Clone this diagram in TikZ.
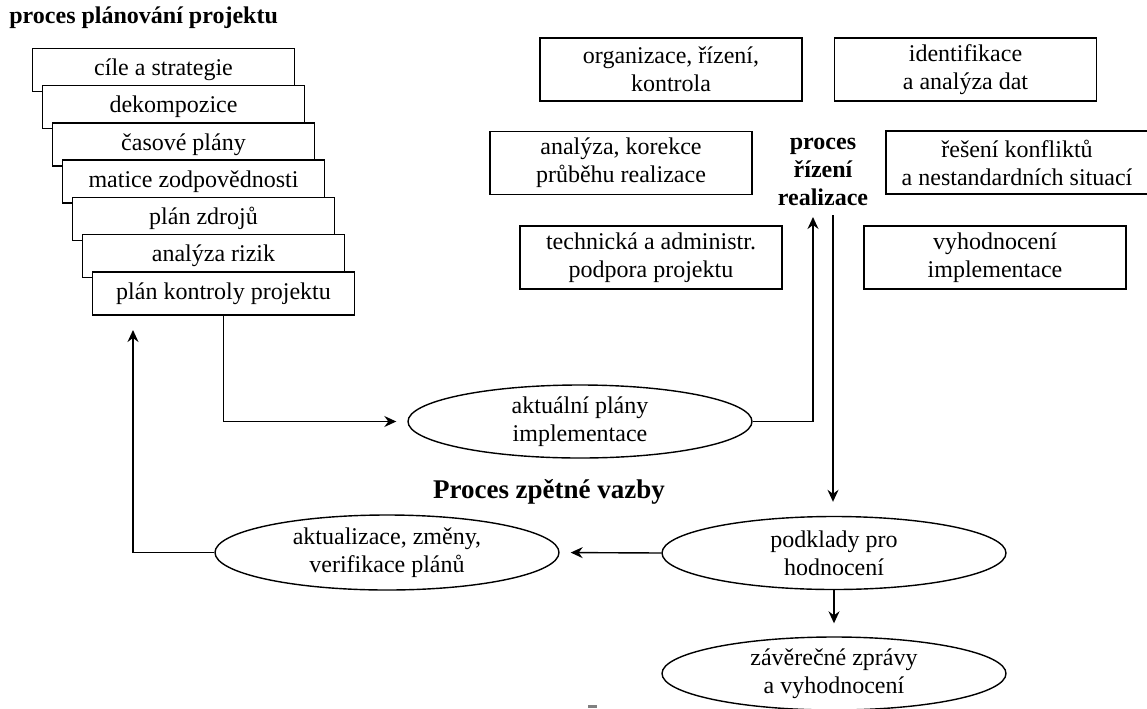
\documentclass[tikz,border=0pt]{standalone}
\usepackage{fontspec}
\setmainfont{Liberation Serif}
\usetikzlibrary{shapes.geometric,arrows.meta}
\begin{document}
\begin{tikzpicture}[x=0.5pt,y=-0.5pt,
  every node/.style={font=\fontsize{12}{14}\selectfont, text=black},
  stk/.style={draw, line width=0.7pt, fill=white, minimum width=131pt, minimum height=21.5pt, inner sep=0pt},
  bx/.style={draw, line width=0.7pt, minimum width=131pt, minimum height=31.5pt, inner sep=0pt, align=center},
  ell/.style={draw, ellipse, line width=0.7pt, minimum width=172pt, minimum height=36.5pt, inner sep=0pt, align=center},
  conn/.style={line width=0.7pt},
  arr/.style={conn, -{Stealth[length=6pt,width=5.5pt,inset=2pt]}},
  ttl/.style={font=\fontsize{12}{14}\selectfont\bfseries, inner sep=0pt, align=center}
]
\useasboundingbox (0,0) rectangle (1147,708);

% title
\node[ttl, anchor=west] (title) at (9,18) {proces plánování projektu};

% stacked planning boxes
\node[stk] (s1) at (163.5,70) {cíle a strategie};
\node[stk] (s2) at (173.5,107.2) {dekompozice};
\node[stk] (s3) at (183.5,144.3) {časové plány};
\node[stk] (s4) at (193.5,181.5) {matice zodpovědnosti};
\node[stk] (s5) at (203.5,218.7) {plán zdrojů};
\node[stk] (s6) at (213.5,255.8) {analýza rizik};
\node[stk] (s7) at (223.5,293.5) {plán kontroly projektu};

% control process boxes
\node[bx] (org) at (671,69.5) {organizace, řízení,\\kontrola};
\node[bx] (ident) at (965.5,69.5) {identifikace\\a analýza dat};
\node[bx] (anal) at (621,163) {analýza, korekce\\průběhu realizace};
\node[bx] (res) at (1017,162.5) {řešení konfliktů\\a nestandardních situací};
\node[bx] (tech) at (651,257.5) {technická a administr.\\podpora projektu};
\node[bx] (vyh) at (995,257.5) {vyhodnocení\\implementace};
\node[ttl] (rizeni) at (823,172) {proces\\řízení\\realizace};

% ellipses
\node[ell] (e1) at (580,421.5) {aktuální plány\\implementace};
\node[ell, minimum height=37.5pt] (e2) at (387,552.5) {aktualizace, změny,\\verifikace plánů};
\node[ell] (e3) at (834,553) {podklady pro\\hodnocení};
\node[ell] (e4) at (834,673.5) {závěrečné zprávy\\a vyhodnocení};
\node[ttl, font=\fontsize{13.5}{16}\selectfont\bfseries] (zpet) at (549,492) {Proces zpětné vazby};

% connector end points
\coordinate (upin) at (813,217);
\coordinate (downout) at (833,215);
\coordinate (lx) at (133,317);

% connectors
\draw[arr, shorten >=5.5pt] (s7.south) |- (e1.west);
\draw[arr] (e1.east) -| (upin);
\draw[arr, shorten >=7pt] (downout) -- (downout |- e3.north);
\draw[arr, shorten >=5.5pt] (e3.west) -- (e2.east);
\draw[arr, shorten >=6.5pt] (e3.south) -- (e4.north);
\draw[arr, shorten >=6.5pt] (e2.west) -| (lx);

% stray mark
\fill[gray] (588,705) rectangle (597,708);
\end{tikzpicture}
\end{document}
